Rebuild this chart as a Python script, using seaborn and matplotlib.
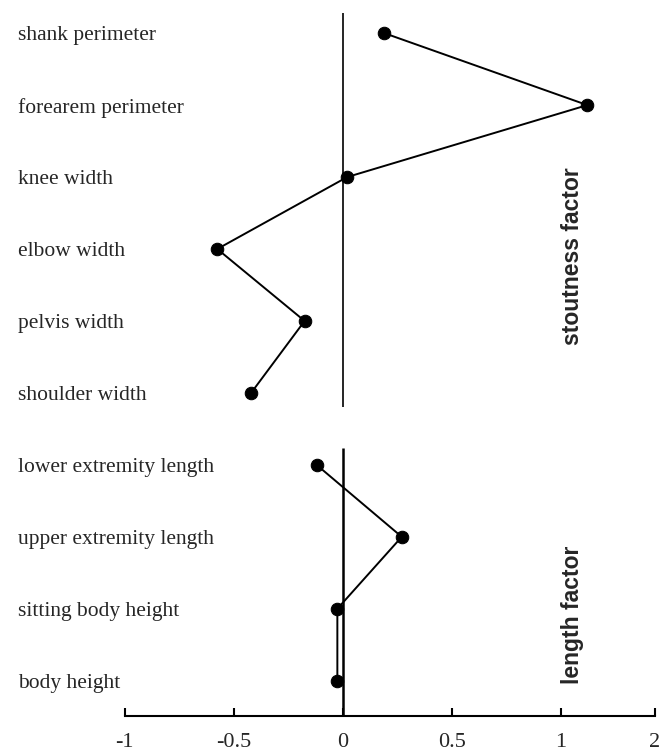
import numpy as np
import pandas as pd
import matplotlib
matplotlib.use("Agg")
import matplotlib.pyplot as plt
import seaborn as sns

# factor loadings
stoutness_vars = ["shank perimeter", "forearem perimeter", "knee width",
                  "elbow width", "pelvis width", "shoulder width"]
stoutness_vals = [0.19, 1.12, 0.02, -0.575, -0.175, -0.42]

length_vars = ["lower extremity length", "upper extremity length",
               "sitting body height", "body height"]
length_vals = [-0.12, 0.27, -0.025, -0.025]

xtick_vals = [-1, -0.5, 0, 0.5, 1, 1.43]
xtick_labels = ["-1", "-0.5", "0", "0.5", "1", "2"]


def plot_loadings():
    sns.set_style("white")
    plt.rcParams["font.family"] = ["Liberation Serif", "DejaVu Serif"]

    df = pd.DataFrame({
        "variable": stoutness_vars + length_vars,
        "loading": stoutness_vals + length_vals,
        "factor": ["stoutness"] * len(stoutness_vars) + ["length"] * len(length_vars),
    })
    df["pos"] = np.arange(len(df))

    fig = plt.figure(figsize=(6.64, 7.55), dpi=100)
    ax = fig.add_axes([124.5 / 664, 1 - 716 / 755, (655 - 124.5) / 664, (716 - 13) / 755])

    # one connected line per factor
    for factor in ["stoutness", "length"]:
        sub = df[df["factor"] == factor]
        sns.lineplot(data=sub, x="loading", y="pos", sort=False, orient="y",
                     color="black", linewidth=1.4, marker="o", markersize=9,
                     markeredgecolor="black", ax=ax)

    # zero reference line, split between the two factors
    ax.vlines(0, -0.28, 5.2, color="black", linewidth=1.2)
    ax.vlines(0, 5.76, 9.49, color="black", linewidth=1.8)

    ax.set_xlim(-1, 1.43)
    ax.set_ylim(9.49, -0.28)
    ax.set_xticks(xtick_vals)
    ax.set_xticklabels(xtick_labels, fontsize=16)
    ax.set_yticks(df["pos"])
    ax.set_yticklabels(df["variable"], fontsize=15.5)
    for lab in ax.get_yticklabels():
        lab.set_ha("left")
    ax.tick_params(axis="y", left=False, length=0, pad=(124.5 - 18) * 0.72)
    ax.tick_params(axis="x", bottom=True, direction="in", length=6,
                   width=1.5, color="black", pad=12)
    ax.set_xlabel("")
    ax.set_ylabel("")

    for side in ["top", "right", "left"]:
        ax.spines[side].set_visible(False)
    ax.spines["bottom"].set_linewidth(1.5)
    ax.spines["bottom"].set_color("black")

    ax.text(1.05, 3.1, "stoutness factor", rotation=90, ha="center", va="center",
            fontsize=16.5, fontweight="bold", family=["Liberation Sans", "DejaVu Sans"])
    ax.text(1.05, 8.08, "length factor", rotation=90, ha="center", va="center",
            fontsize=16.5, fontweight="bold", family=["Liberation Sans", "DejaVu Sans"])

    fig.savefig("out.png", dpi=100)


if __name__ == "__main__":
    plot_loadings()
